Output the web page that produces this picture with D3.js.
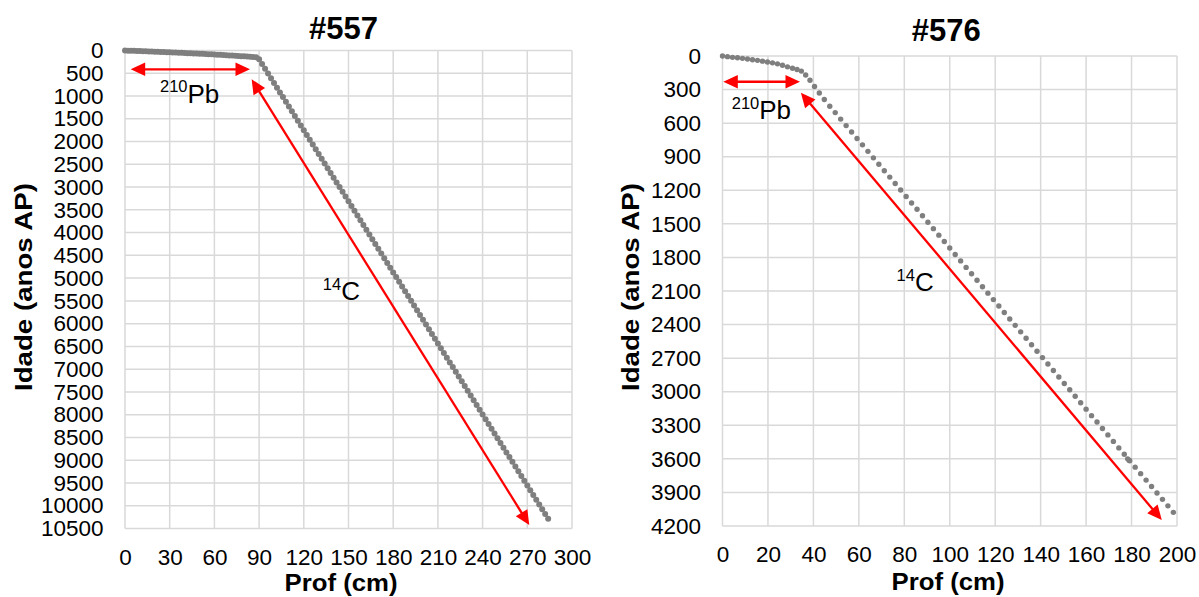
<!DOCTYPE html>
<html>
<head>
<meta charset="utf-8">
<script src="https://cdn.jsdelivr.net/npm/d3@7/dist/d3.min.js"></script>
<style>
  html, body { margin: 0; padding: 0; background: #ffffff; }
  svg { display: block; }
  text { font-family: "Liberation Sans", Arial, sans-serif; fill: #000; }
</style>
</head>
<body>
<svg id="chart" width="1199" height="597"></svg>
<script>
// ---------------- DATA ----------------
// Core #557 : depth (cm) vs age (anos AP)
const depth557 = [0,2,4,6,8,10,12,14,16,18,20,22,24,26,28,30,32,34,36,38,40,42,44,46,48,50,52,54,56,58,60,62,64,66,68,70,72,74,76,78,80,82,84,86,88,
  90,92,94,96,98,100,102,104,106,108,110,112,114,116,118,120,122,124,126,128,130,132,134,136,138,140,142,144,146,148,
  150,152,154,156,158,160,162,164,166,168,170,172,174,176,178,180,182,184,186,188,190,192,194,196,198,
  200,202,204,206,208,210,212,214,216,218,220,222,224,226,228,230,232,234,236,238,240,242,244,246,248,
  250,252,254,256,258,260,262,264,266,268,270,272,274,276,278,280,282,284];
const age557 = [0,3,5,8,10, 13,15,18,20,23, 25,28,31,34,37, 40,43,46,49,52, 55,58,61,64,67, 71,74,77,81,84, 88,92,96,100,104, 108,112,116,120,124, 128,133,137,142,147,
  192,296,400,504,608, 712,816,920,1024,1128, 1232,1336,1440,1544,1648, 1753,1857,1961,2065,2169, 2273,2377,2481,2585,2689, 2793,2897,3001,3105,3209,
  3313,3418,3522,3626,3730, 3834,3938,4042,4146,4250, 4354,4458,4562,4666,4770, 4874,4978,5082,5186,5290, 5395,5499,5603,5707,5811,
  5915,6019,6123,6227,6331, 6435,6539,6643,6747,6851, 6955,7059,7163,7267,7372, 7476,7580,7684,7788,7892, 7996,8100,8204,8308,8412,
  8516,8620,8724,8828,8932, 9036,9140,9244,9349,9453, 9557,9661,9765,9869,9973, 10077,10181,10285];

// Core #576 : depth (cm) vs age (anos AP)
const depth576 = [0,2.2,4.4,6.6,8.8,11,13.2,15.4,17.6,19.8,22,24.2,26.4,28.6,30.8,32.8,34.7,36.6,38.5,40.5,42.6,44.8,
  47.2,49.6,52,54.4,56.8,59.2,61.6,64,66.4,68.8,71.2,73.6,76,78.4,80.8,83.2,85.6,88,90.4,92.8,95.2,97.6,100,102.4,104.8,107.2,109.6,112,114.4,116.8,
  119.2,121.6,124,126.4,128.8,131.2,133.6,136,138.4,140.8,143.2,145.6,148,150.4,152.8,155.2,157.6,160,162.4,164.8,
  167.2,169.6,172,174.4,176.8,179.2,181.6,184,186.4,188.8,191.2,193.6,196,198.4,178.3,178.9];
const age576 = [0,6,12,16,21,27,33,39,46,54,61,70,83,97,110,120,135,170,217,272,330,389,
  449,506,564,622,679,737,794,852,910,967,1025,1082,1140,1198,1255,1313,1370,1428,1486,1543,1601,1658,1716,1774,1831,1889,1946,2004,2062,2119,
  2177,2234,2292,2350,2407,2465,2522,2580,2638,2695,2753,2810,2868,2926,2983,3041,3098,3156,3214,3271,
  3329,3386,3444,3502,3559,3617,3674,3732,3790,3847,3905,3962,4020,4078,3600,3612];

// Tick labels
const xTicks557 = [0,30,60,90,120,150,180,210,240,270,300];
const yTicks557 = [0,500,1000,1500,2000,2500,3000,3500,4000,4500,5000,5500,6000,6500,7000,7500,8000,8500,9000,9500,10000,10500];
const xTicks576 = [0,20,40,60,80,100,120,140,160,180,200];
const yTicks576 = [0,300,600,900,1200,1500,1800,2100,2400,2700,3000,3300,3600,3900,4200];

// Texts
const titles = ["#557", "#576"];
const xAxisTitle = "Prof (cm)";
const yAxisTitle = "Idade (anos AP)";

// Annotations (in data units: depth cm, age anos AP)
const arrows557 = [[3.8, 413, 83.9, 413], [85.0, 633, 271.3, 10424]];
const arrows576 = [[0.35, 230, 34.1, 230], [34.5, 328, 193.3, 4146]];
const labels557 = [["210", "Pb", 23.5, 1148], ["14", "C", 132.8, 5481]];
const labels576 = [["210", "Pb", 4.05, 563], ["14", "C", 76.6, 2100]];

// ---------------- LAYOUT ----------------
const panels = [
  { title: titles[0], depth: depth557, age: age557, xTicks: xTicks557, yTicks: yTicks557,
    xRange: [125, 572], yRange: [50.5, 528.5], r: 3.0,
    arrows: arrows557, labels: labels557,
    titleX: 343.5, titleY: 39, yTitleX: 31.5, yTitleY: 287, xTitleX: 341, xTitleY: 590.5 },
  { title: titles[1], depth: depth576, age: age576, xTicks: xTicks576, yTicks: yTicks576,
    xRange: [722.5, 1177], yRange: [56, 526], r: 2.7,
    arrows: arrows576, labels: labels576,
    titleX: 946.3, titleY: 41, yTitleX: 639, yTitleY: 287, xTitleX: 948, xTitleY: 589.5 }
];

const svg = d3.select("#chart");
svg.append("rect").attr("width", 1199).attr("height", 597).attr("fill", "#fff");

const gridColor = "#d9d9d9";
const markerColor = "#7f7f7f";
const red = "#ff0000";
const fontFam = '"Liberation Sans", Arial, sans-serif';

panels.forEach(p => {
  const x = d3.scaleLinear().domain([p.xTicks[0], p.xTicks[p.xTicks.length - 1]]).range(p.xRange);
  const y = d3.scaleLinear().domain([p.yTicks[0], p.yTicks[p.yTicks.length - 1]]).range(p.yRange);
  const g = svg.append("g");

  // grid
  g.append("g").selectAll("line").data(p.yTicks).join("line")
    .attr("x1", p.xRange[0]).attr("x2", p.xRange[1])
    .attr("y1", d => y(d)).attr("y2", d => y(d))
    .attr("stroke", gridColor).attr("stroke-width", 1.5);
  g.append("g").selectAll("line").data(p.xTicks).join("line")
    .attr("y1", p.yRange[0]).attr("y2", p.yRange[1])
    .attr("x1", d => x(d)).attr("x2", d => x(d))
    .attr("stroke", gridColor).attr("stroke-width", 1.5);

  // axes (labels only)
  const yAxis = g.append("g").attr("transform", `translate(${p.xRange[0]},0)`)
    .call(d3.axisLeft(y).tickValues(p.yTicks).tickSize(0).tickPadding(21.5).tickFormat(d3.format("d")));
  yAxis.select(".domain").remove();
  yAxis.selectAll("text").style("font-size", "22.5px").style("font-family", fontFam).attr("fill", "#000");

  const xAxis = g.append("g").attr("transform", `translate(0,${p.yRange[1]})`)
    .call(d3.axisBottom(x).tickValues(p.xTicks).tickSize(0).tickPadding(20.5).tickFormat(d3.format("d")));
  xAxis.select(".domain").remove();
  xAxis.selectAll("text").style("font-size", "22.5px").style("font-family", fontFam).attr("fill", "#000");

  // data points
  const pts = d3.zip(p.depth, p.age);
  g.append("g").selectAll("circle").data(pts).join("circle")
    .attr("cx", d => x(d[0])).attr("cy", d => y(d[1])).attr("r", p.r)
    .attr("fill", markerColor);

  // arrows
  const headL = 14.5, headW = 6.8;
  p.arrows.forEach(a => {
    const x1 = x(a[0]), y1 = y(a[1]), x2 = x(a[2]), y2 = y(a[3]);
    const len = Math.hypot(x2 - x1, y2 - y1);
    const ux = (x2 - x1) / len, uy = (y2 - y1) / len;
    const nx = -uy, ny = ux;
    g.append("line")
      .attr("x1", x1 + ux * (headL - 2)).attr("y1", y1 + uy * (headL - 2))
      .attr("x2", x2 - ux * (headL - 2)).attr("y2", y2 - uy * (headL - 2))
      .attr("stroke", red).attr("stroke-width", 2.3);
    const head = (tx, ty, dx, dy) => {
      const bx = tx - dx * headL, by = ty - dy * headL;
      return `M${tx},${ty}L${bx + nx * headW},${by + ny * headW}L${bx - nx * headW},${by - ny * headW}Z`;
    };
    g.append("path").attr("d", head(x2, y2, ux, uy)).attr("fill", red);
    g.append("path").attr("d", head(x1, y1, -ux, -uy)).attr("fill", red);
  });

  // annotation labels
  p.labels.forEach(l => {
    const t = g.append("text").attr("x", x(l[2])).attr("y", y(l[3]));
    t.append("tspan").text(l[0]).style("font-size", "16.5px").attr("dy", -10.5);
    t.append("tspan").text(l[1]).style("font-size", "26px").attr("dy", 10.5);
  });

  // titles
  g.append("text").text(p.title)
    .attr("x", p.titleX).attr("y", p.titleY).attr("text-anchor", "middle")
    .style("font-size", "31px").style("font-weight", "bold");
  g.append("text").text(xAxisTitle)
    .attr("x", p.xTitleX).attr("y", p.xTitleY).attr("text-anchor", "middle")
    .attr("textLength", 113).attr("lengthAdjust", "spacingAndGlyphs")
    .style("font-size", "23.5px").style("font-weight", "bold");
  g.append("text").text(yAxisTitle)
    .attr("transform", `translate(${p.yTitleX},${p.yTitleY}) rotate(-90)`)
    .attr("text-anchor", "middle")
    .attr("textLength", 208).attr("lengthAdjust", "spacingAndGlyphs")
    .style("font-size", "24px").style("font-weight", "bold");
});
</script>
</body>
</html>
